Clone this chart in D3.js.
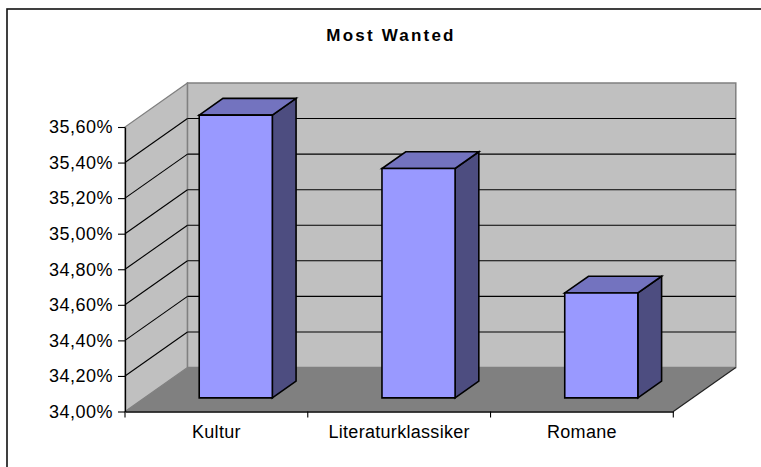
<!DOCTYPE html>
<html>
<head>
<meta charset="utf-8">
<script src="https://cdn.jsdelivr.net/npm/d3@7"></script>
<style>
  html, body { margin: 0; padding: 0; background: #fff; }
  svg { display: block; }
  text { font-family: "Liberation Sans", Arial, sans-serif; fill: #000; }
</style>
</head>
<body>
<svg id="chart" width="761" height="467"></svg>
<script>
const title = "Most Wanted";
const categories = ["Kultur", "Literaturklassiker", "Romane"];
const values = [35.59, 35.29, 34.59];
const yTicks = [34.0, 34.2, 34.4, 34.6, 34.8, 35.0, 35.2, 35.4, 35.6];
const yTickLabels = ["34,00%", "34,20%", "34,40%", "34,60%", "34,80%", "35,00%", "35,20%", "35,40%", "35,60%"];

const svg = d3.select("#chart");
const W = 761, H = 467;

// frame (only top/left visible in the crop)
svg.append("rect").attr("x", 7).attr("y", 9).attr("width", 900).attr("height", 600)
  .attr("fill", "none").attr("stroke", "#111").attr("stroke-width", 1.6);

const x0 = 125, x1 = 673.3;
const DX = 62.5, DY = 44;
const x = d3.scaleBand().domain(categories).range([x0, x1]).paddingInner(0.6).paddingOuter(0.3);
const y = d3.scaleLinear().domain([34, 35.6]).range([411.5, 127]);
const yMin = 34, yMax = 35.6;
const P = (px, v, z) => [px + z * DX, y(v) - z * DY];
const line = d3.line();

// side wall
svg.append("path")
  .attr("d", line([P(x0, yMin, 0), P(x0, yMax, 0), P(x0, yMax, 1), P(x0, yMin, 1)]) + "Z")
  .attr("fill", "#C0C0C0").attr("stroke", "#808080").attr("stroke-width", 1.2);
// back wall
svg.append("path")
  .attr("d", line([P(x0, yMin, 1), P(x0, yMax, 1), P(x1, yMax, 1), P(x1, yMin, 1)]) + "Z")
  .attr("fill", "#C0C0C0").attr("stroke", "#808080").attr("stroke-width", 1.5);
// floor
svg.append("path")
  .attr("d", line([P(x0, yMin, 0), P(x1, yMin, 0), P(x1, yMin, 1), P(x0, yMin, 1)]) + "Z")
  .attr("fill", "#808080").attr("stroke", "none");
svg.append("path")
  .attr("d", line([P(x1, yMin, 0), P(x1, yMin, 1)]))
  .attr("stroke", "#222").attr("stroke-width", 1.2).attr("fill", "none");

// gridlines
const inner = yTicks.filter(v => v > yMin && v < yMax);
svg.append("g").selectAll("path.bg").data(inner).join("path")
  .attr("d", v => line([P(x0, v, 1), P(x1, v, 1)]))
  .attr("stroke", "#000").attr("stroke-width", 1.1).attr("fill", "none");
svg.append("g").selectAll("path.sg").data(inner).join("path")
  .attr("d", v => line([P(x0, v, 0), P(x0, v, 1)]))
  .attr("stroke", "#000").attr("stroke-width", 1.1).attr("fill", "none");

// bars
const z1 = 0.31, z2 = 0.69;
const bars = svg.append("g");
categories.forEach((c, i) => {
  const v = values[i];
  const l = x(c), r = x(c) + x.bandwidth();
  const g = bars.append("g").attr("stroke", "#000").attr("stroke-width", 1.6).attr("stroke-linejoin", "miter");
  // side
  g.append("path").attr("d", line([P(r, yMin, z1), P(r, yMin, z2), P(r, v, z2), P(r, v, z1)]) + "Z")
    .attr("fill", "#4D4D80");
  // top
  g.append("path").attr("d", line([P(l, v, z1), P(r, v, z1), P(r, v, z2), P(l, v, z2)]) + "Z")
    .attr("fill", "#7373BF");
  // front
  g.append("path").attr("d", line([P(l, yMin, z1), P(r, yMin, z1), P(r, v, z1), P(l, v, z1)]) + "Z")
    .attr("fill", "#9999FF");
});

// left axis
const yAxis = d3.axisLeft(y).tickValues(yTicks)
  .tickFormat((d, i) => yTickLabels[i]).tickSize(7).tickSizeOuter(0).tickPadding(5);
const ga = svg.append("g").attr("transform", `translate(${x0},0)`).call(yAxis);
ga.select(".domain").attr("stroke", "#000").attr("stroke-width", 1.3);
ga.selectAll(".tick line").attr("stroke", "#000").attr("stroke-width", 1.1);
ga.selectAll(".tick text").attr("font-size", 18).attr("letter-spacing", 0.5)
  .attr("font-family", "Liberation Sans, Arial, sans-serif").attr("fill", "#000");

// bottom axis
const xAxis = d3.axisBottom(x).tickSize(0).tickSizeOuter(0).tickPadding(14);
const gb = svg.append("g").attr("transform", `translate(0,${y(yMin)})`).call(xAxis);
gb.select(".domain").attr("stroke", "#000").attr("stroke-width", 1.4);
gb.selectAll(".tick text").attr("font-size", 18).attr("letter-spacing", 0.3)
  .attr("font-family", "Liberation Sans, Arial, sans-serif").attr("fill", "#000");
const bounds = d3.range(categories.length + 1).map(i => x0 + i * x.step() * 1);
svg.append("g").selectAll("line").data(bounds).join("line")
  .attr("x1", d => d).attr("x2", d => d).attr("y1", y(yMin)).attr("y2", y(yMin) + 6)
  .attr("stroke", "#000").attr("stroke-width", 1.1);

// title
svg.append("text").attr("x", 391).attr("y", 41).attr("text-anchor", "middle")
  .attr("font-size", 17).attr("font-weight", "bold").attr("letter-spacing", 2.2)
  .text(title);
</script>
</body>
</html>
